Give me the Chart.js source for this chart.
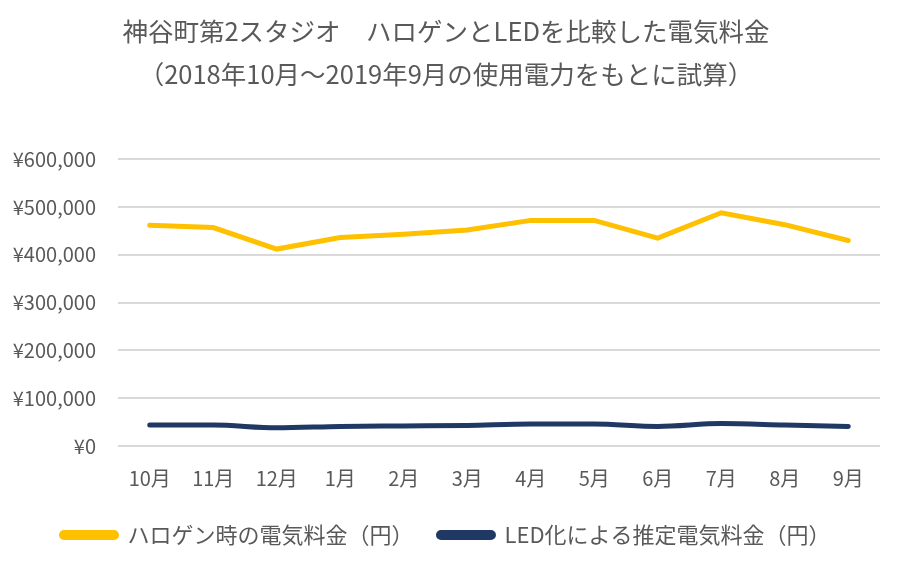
<!DOCTYPE html>
<html>
<head>
<meta charset="utf-8">
<script src="https://cdn.jsdelivr.net/npm/chart.js@4"></script>
<style>
    html, body { margin: 0; padding: 0; background: #fff; }
    #wrap { width: 900px; height: 562px; }
</style>
</head>
<body>
<div id="wrap"><canvas id="chart"></canvas></div>
<script>
const months = ["10月", "11月", "12月", "1月", "2月", "3月", "4月", "5月", "6月", "7月", "8月", "9月"];
const halogen = [462000, 457000, 412000, 436000, 443000, 452000, 472000, 472000, 435000, 488000, 463000, 430000];
const led = [44000, 44000, 38000, 41000, 42000, 43000, 46000, 46000, 41000, 47000, 44000, 41000];
const titleLines = ["神谷町第2スタジオ　ハロゲンとLEDを比較した電気料金", "（2018年10月～2019年9月の使用電力をもとに試算）"];

const font = "'Noto Sans CJK JP', 'Noto Sans', sans-serif";
Chart.defaults.font.family = font;
Chart.defaults.color = "#595959";

const ctx = document.getElementById("chart").getContext("2d");

new Chart(ctx, {
    type: "line",
    data: {
        labels: months,
        datasets: [{
            label: "ハロゲン時の電気料金（円）",
            data: halogen,
            borderColor: "#ffc000",
            backgroundColor: "#ffc000",
            borderWidth: 5,
            pointRadius: 0,
            borderCapStyle: "round",
            tension: 0,
        }, {
            label: "LED化による推定電気料金（円）",
            data: led,
            borderColor: "#203864",
            backgroundColor: "#203864",
            borderWidth: 5,
            pointRadius: 0,
            borderCapStyle: "round",
            cubicInterpolationMode: "monotone",
        }],
    },
    options: {
        responsive: true,
        maintainAspectRatio: false,
        animation: false,
        layout: { padding: { left: 12, right: 20, top: 10, bottom: 6 } },
        plugins: {
            title: {
                display: true,
                text: titleLines,
                color: "#595959",
                font: { size: 25.5, weight: "normal", lineHeight: 1.69 },
                padding: { top: 0, bottom: 63 },
            },
            legend: {
                position: "bottom",
                labels: {
                    boxWidth: 55,
                    boxHeight: 5,
                    useBorderRadius: true,
                    borderRadius: 2.5,
                    padding: 25,
                    font: { size: 22 },
                    color: "#595959",
                },
            },
            tooltip: { enabled: false },
        },
        scales: {
            x: {
                offset: true,
                // keep the labels inside the box but let the legend sit close under them
                afterFit: scale => { scale.height = 53; },
                grid: { display: false, drawTicks: false },
                border: { display: false },
                ticks: { padding: 20, font: { size: 20 } },
            },
            y: {
                min: 0,
                max: 600000,
                afterFit: scale => { scale.width = 106; },
                grid: { color: "#d9d9d9", lineWidth: 2, drawTicks: false },
                border: { display: false },
                ticks: {
                    stepSize: 100000,
                    padding: 22,
                    font: { size: 20 },
                    callback: v => "¥" + v.toLocaleString("en-US"),
                },
            },
        },
    },
});
</script>
</body>
</html>
